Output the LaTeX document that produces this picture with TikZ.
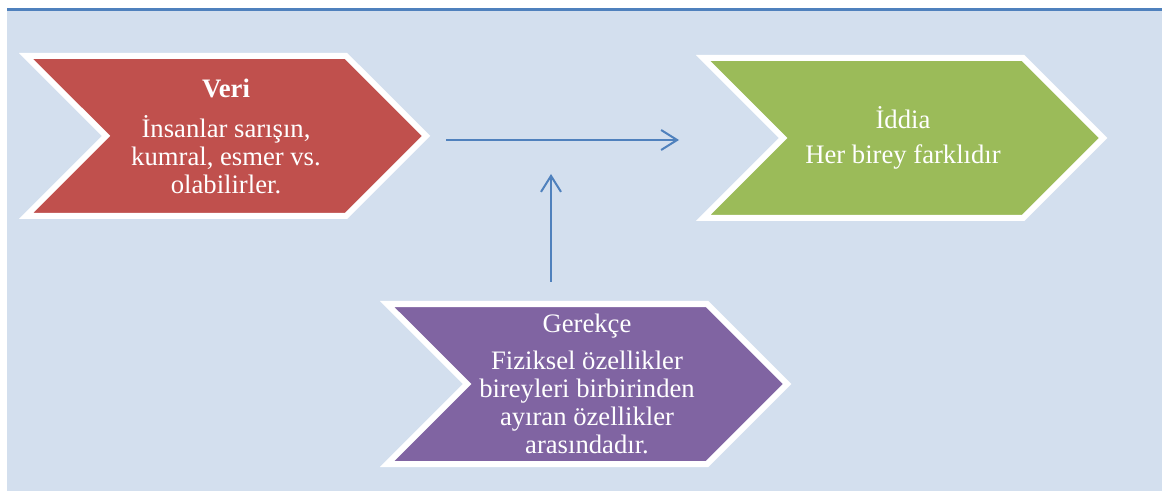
\documentclass[tikz,border=0pt]{standalone}
\usepackage{fontspec}
\setmainfont{Liberation Serif}
\usetikzlibrary{arrows.meta,positioning,shapes.symbols}
\definecolor{paneblue}{HTML}{D3DFEE}
\definecolor{lineblue}{HTML}{4F81BD}
\definecolor{veri}{HTML}{C0504D}
\definecolor{iddia}{HTML}{9BBB59}
\definecolor{gerekce}{HTML}{8064A2}

\begin{document}
\begin{tikzpicture}[x=0.75pt,y=-0.75pt]
\tikzstyle{every node}=[font=\fontsize{20}{21}\selectfont]
\tikzstyle{chevron}=[signal, signal from=west, signal to=east,
minimum width=300pt, minimum height=120pt, inner sep=0pt,
draw=white, line width=4.5pt, text=white, align=center]
\tikzstyle{flow}=[-{Straight Barb[length=12pt,width=15pt]}, line width=1.5pt, draw=lineblue]

\useasboundingbox (0,0) rectangle (1162,491);
\fill[paneblue] (7,11) rectangle (1162,491);
\draw[lineblue, line width=2.25pt] (7,9.5) -- (1162,9.5);

\node[chevron, fill=veri] at (226,136) (veri) {
{\bfseries Veri}\\[9pt]
İnsanlar sarışın,\\
kumral, esmer vs.\\
olabilirler.
};

\node[chevron, fill=iddia] at (903,138) (iddia) {
İddia\\[5pt]
Her birey farklıdır
};

\node[chevron, fill=gerekce] at (587,384) (gerekce) {
Gerekçe\\[7pt]
Fiziksel özellikler\\
bireyleri birbirinden\\
ayıran özellikler\\
arasındadır.
};

\coordinate (meet) at (551,174);

\draw[flow] ([xshift=12pt,yshift=-3pt]veri.east) -- ([xshift=-168pt,yshift=-1.5pt]iddia.center);
\draw[flow] ([xshift=-27pt,yshift=14.25pt]gerekce.north) -- (meet);

\end{tikzpicture}
\end{document}
